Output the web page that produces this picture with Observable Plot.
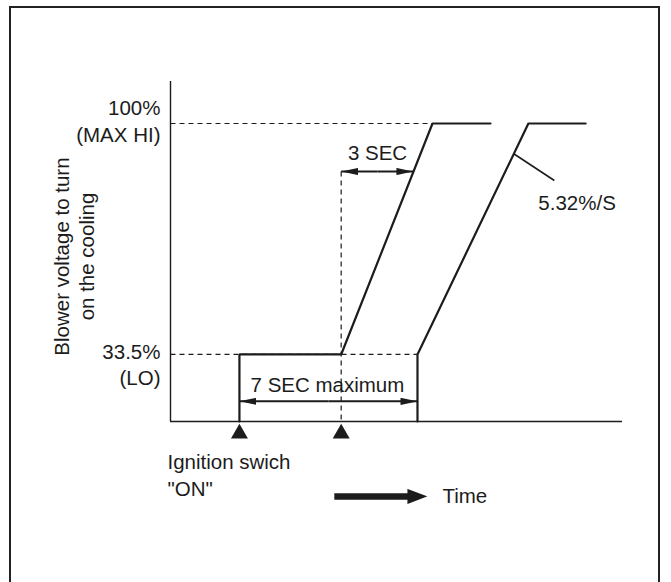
<!DOCTYPE html>
<html><head><meta charset="utf-8">
<script src="https://cdn.jsdelivr.net/npm/d3@7"></script>
<script src="https://cdn.jsdelivr.net/npm/@observablehq/plot@0.6"></script>
<style>
html,body{margin:0;padding:0;background:#fff;}
#wrap{position:relative;width:671px;height:582px;overflow:hidden;background:#fff;}
#chart{position:absolute;left:0;top:0;}
#border{position:absolute;left:9px;top:6px;width:651px;height:640px;border:2px solid #222;box-sizing:border-box;pointer-events:none;}
</style></head><body>
<div id="wrap"><div id="chart"></div><div id="border"></div></div>
<script>
// ---- data (time in seconds from ignition, blower voltage in %) ----
const levels = [33.5, 100];
const levelTop = ["33.5%", "100%"];
const levelBottom = ["(LO)", "(MAX HI)"];
const eventTimes = [0, 4];                  // ignition "ON", second trigger
const rampA_t = [0, 0, 4, 7.59, 9.87];
const rampA_v = [14.2, 33.5, 33.5, 100, 100];
const rampB_t = [7, 7, 11.36, 13.61];
const rampB_v = [14.2, 33.5, 100, 100];
const timeDomain = [-2.71, 15.06];
const voltDomain = [14.2, 112.1];
const yLabel = "Blower voltage to turn\non the cooling";
const slopeLabel = "5.32%/S";
const shortSpan = [4, 6.84, 86.18];        // 3 SEC: from, to, level
const longSpan = [0, 7, 20];               // 7 SEC maximum: from, to, level

const ink = "#1c1c1c";
const lineA = rampA_t.map((t, i) => ({t, v: rampA_v[i]}));
const lineB = rampB_t.map((t, i) => ({t, v: rampB_v[i]}));
const guides = [
  {x1: timeDomain[0], y1: levels[1], x2: rampA_t[3], y2: levels[1]},
  {x1: timeDomain[0], y1: levels[0], x2: rampB_t[0], y2: levels[0]},
  {x1: eventTimes[1], y1: shortSpan[2], x2: eventTimes[1], y2: voltDomain[0]}
];
const mid = (a, b) => (a + b) / 2;
const dims = [
  {x1: mid(shortSpan[0], shortSpan[1]), x2: shortSpan[0], y: shortSpan[2]},
  {x1: mid(shortSpan[0], shortSpan[1]), x2: shortSpan[1], y: shortSpan[2]},
  {x1: mid(longSpan[0], longSpan[1]), x2: longSpan[0], y: longSpan[2]},
  {x1: mid(longSpan[0], longSpan[1]), x2: longSpan[1], y: longSpan[2]}
];

const fs = 20.5;
const plot = Plot.plot({
  width: 671, height: 582,
  marginLeft: 170, marginRight: 49, marginTop: 81, marginBottom: 161,
  x: {domain: timeDomain, axis: null},
  y: {domain: voltDomain, axis: null},
  style: {fontFamily: "'Liberation Sans', Arial, sans-serif", fontSize: fs + "px", color: ink, background: "transparent"},
  marks: [
    // dashed guides
    Plot.link(guides, {x1: "x1", y1: "y1", x2: "x2", y2: "y2", stroke: ink, strokeWidth: 1.2, strokeDasharray: "5,4"}),
    // axes
    Plot.ruleX([timeDomain[0]], {stroke: ink, strokeWidth: 1.4}),
    Plot.ruleY([voltDomain[0]], {stroke: ink, strokeWidth: 1.4}),
    // blower voltage curves
    Plot.line(lineA, {x: "t", y: "v", stroke: ink, strokeWidth: 2.2, strokeLinejoin: "miter"}),
    Plot.line(lineB, {x: "t", y: "v", stroke: ink, strokeWidth: 2.2, strokeLinejoin: "miter"}),
    // event triangles
    Plot.dot(eventTimes, {x: d => d, frameAnchor: "bottom", symbol: "triangle", r: 6.3, fill: ink, stroke: "none", dy: 12}),
    // dimension arrows
    Plot.link(dims, {x1: "x1", y1: "y", x2: "x2", y2: "y", stroke: ink, strokeWidth: 2, markerEnd: "arrow"}),
    // slope leader
    Plot.link([{x1: 10.77, y1: 91.36, x2: 12.38, y2: 83.59}], {x1: "x1", y1: "y1", x2: "x2", y2: "y2", stroke: ink, strokeWidth: 1.6}),
    // level labels
    Plot.text([levels[1]], {y: d => d, text: d => levelTop[1], frameAnchor: "left", textAnchor: "end", lineAnchor: "middle", dx: -10, dy: -15, fill: ink}),
    Plot.text([levels[1]], {y: d => d, text: d => levelBottom[1], frameAnchor: "left", textAnchor: "end", lineAnchor: "middle", dx: -10, dy: 12, fill: ink}),
    Plot.text([levels[0]], {y: d => d, text: d => levelTop[0], frameAnchor: "left", textAnchor: "end", lineAnchor: "middle", dx: -10, dy: -2, fill: ink}),
    Plot.text([levels[0]], {y: d => d, text: d => levelBottom[0], frameAnchor: "left", textAnchor: "end", lineAnchor: "middle", dx: -10, dy: 24, fill: ink}),
    // y label
    Plot.text([61.7], {y: d => d, text: d => yLabel, frameAnchor: "left", textAnchor: "middle", lineAnchor: "middle", rotate: -90, dx: -97, lineHeight: 1.22, fill: ink}),
    // annotations
    Plot.text([{t: 5.43, v: 91.36}], {x: "t", y: "v", text: d => "3 SEC", fill: ink}),
    Plot.text([{t: 11.75, v: 76.97}], {x: "t", y: "v", text: d => slopeLabel, textAnchor: "start", fill: ink}),
    Plot.text([{t: 3.46, v: 24.58}], {x: "t", y: "v", text: d => "7 SEC maximum", fill: ink}),
    Plot.text([eventTimes[0]], {x: d => d, frameAnchor: "bottom", text: d => 'Ignition swich\n"ON"', textAnchor: "start", lineAnchor: "middle", dx: -72, dy: 52.5, lineHeight: 1.32, fill: ink}),
    // time legend arrow
    Plot.link([{x1: 3.73, x2: 6.92, y: -7.37}], {x1: "x1", y1: "y", x2: "x2", y2: "y", stroke: ink, strokeWidth: 6.5, markerEnd: "arrow"}),
    Plot.text([{t: 7.98, v: -7.37}], {x: "t", y: "v", text: d => "Time", textAnchor: "start", fill: ink})
  ]
});

// filled arrowheads
for (const m of plot.querySelectorAll("marker")) {
  const g = m.parentNode;
  const sw = +(g.getAttribute("stroke-width") || (m.nextSibling && m.nextSibling.getAttribute && m.nextSibling.getAttribute("stroke-width")) || 1);
  const big = sw >= 4;
  const L = big ? 20 : 17, H = big ? 7.5 : 3.6, over = big ? 12 : 0;
  m.setAttribute("markerUnits", "userSpaceOnUse");
  m.setAttribute("viewBox", `${-L + over} ${-H} ${L} ${2 * H}`);
  m.setAttribute("markerWidth", L);
  m.setAttribute("markerHeight", 2 * H);
  m.setAttribute("fill", ink);
  m.setAttribute("stroke", "none");
  while (m.firstChild) m.removeChild(m.firstChild);
  const p = document.createElementNS("http://www.w3.org/2000/svg", "path");
  p.setAttribute("d", `M${-L + over},${-H}L${over},0L${-L + over},${H}Z`);
  m.appendChild(p);
}
document.getElementById("chart").appendChild(plot);
</script>
</body></html>
